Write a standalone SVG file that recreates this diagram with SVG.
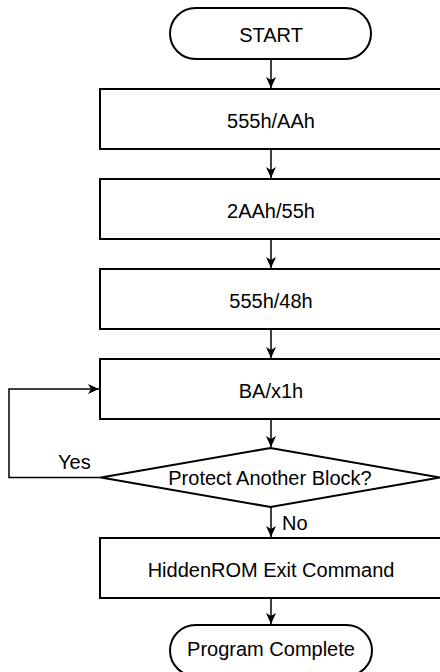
<svg xmlns="http://www.w3.org/2000/svg" width="440" height="672" viewBox="0 0 440 672">
<defs>
<style>
.shape{fill:#fff;stroke:#000;stroke-width:2}
.conn{fill:none;stroke:#000;stroke-width:1.5}
text{font-family:"Liberation Sans",Arial,sans-serif;font-size:20px;fill:#000}
.c{text-anchor:middle}
</style>
<marker id="arr" viewBox="0 0 12 10" refX="11" refY="5" markerWidth="12" markerHeight="10" markerUnits="userSpaceOnUse" orient="auto">
<path d="M0,0 L11,5 L0,10 L3,5 Z" fill="#000"/>
</marker>
</defs>
<rect width="440" height="672" fill="#fff"/>
<g id="connectors">
<line class="conn" x1="271" y1="59" x2="271" y2="88" marker-end="url(#arr)"/>
<line class="conn" x1="271" y1="149" x2="271" y2="178" marker-end="url(#arr)"/>
<line class="conn" x1="271" y1="239" x2="271" y2="268" marker-end="url(#arr)"/>
<line class="conn" x1="271" y1="329" x2="271" y2="358" marker-end="url(#arr)"/>
<line class="conn" x1="271" y1="419" x2="271" y2="447" marker-end="url(#arr)"/>
<line class="conn" x1="271" y1="507" x2="271" y2="537" marker-end="url(#arr)"/>
<line class="conn" x1="271" y1="598" x2="271" y2="624" marker-end="url(#arr)"/>
<polyline class="conn" points="101,477.5 9,477.5 9,389 99,389" marker-end="url(#arr)"/>
<text x="58" y="469">Yes</text>
<text x="282" y="530">No</text>
</g>
<g id="start">
<rect class="shape" x="170" y="8" width="201" height="51" rx="25.5" ry="25.5"/>
<text class="c" x="271" y="42">START</text>
</g>
<g id="step1">
<rect class="shape" x="100" y="89" width="345" height="60"/>
<text class="c" x="271" y="128">555h/AAh</text>
</g>
<g id="step2">
<rect class="shape" x="100" y="179" width="345" height="60"/>
<text class="c" x="271" y="218">2AAh/55h</text>
</g>
<g id="step3">
<rect class="shape" x="100" y="269" width="345" height="60"/>
<text class="c" x="271" y="308">555h/48h</text>
</g>
<g id="step4">
<rect class="shape" x="100" y="359" width="345" height="60"/>
<text class="c" x="271" y="398">BA/x1h</text>
</g>
<g id="decision">
<polygon class="shape" points="101,477.5 270.5,448 440,477.5 270.5,507"/>
<text class="c" x="270" y="485">Protect Another Block?</text>
</g>
<g id="exit">
<rect class="shape" x="100" y="538" width="345" height="60"/>
<text class="c" x="271" y="577">HiddenROM Exit Command</text>
</g>
<g id="end">
<rect class="shape" x="170" y="625" width="202" height="51" rx="25.5" ry="25.5"/>
<text class="c" x="271" y="656">Program Complete</text>
</g>
</svg>
